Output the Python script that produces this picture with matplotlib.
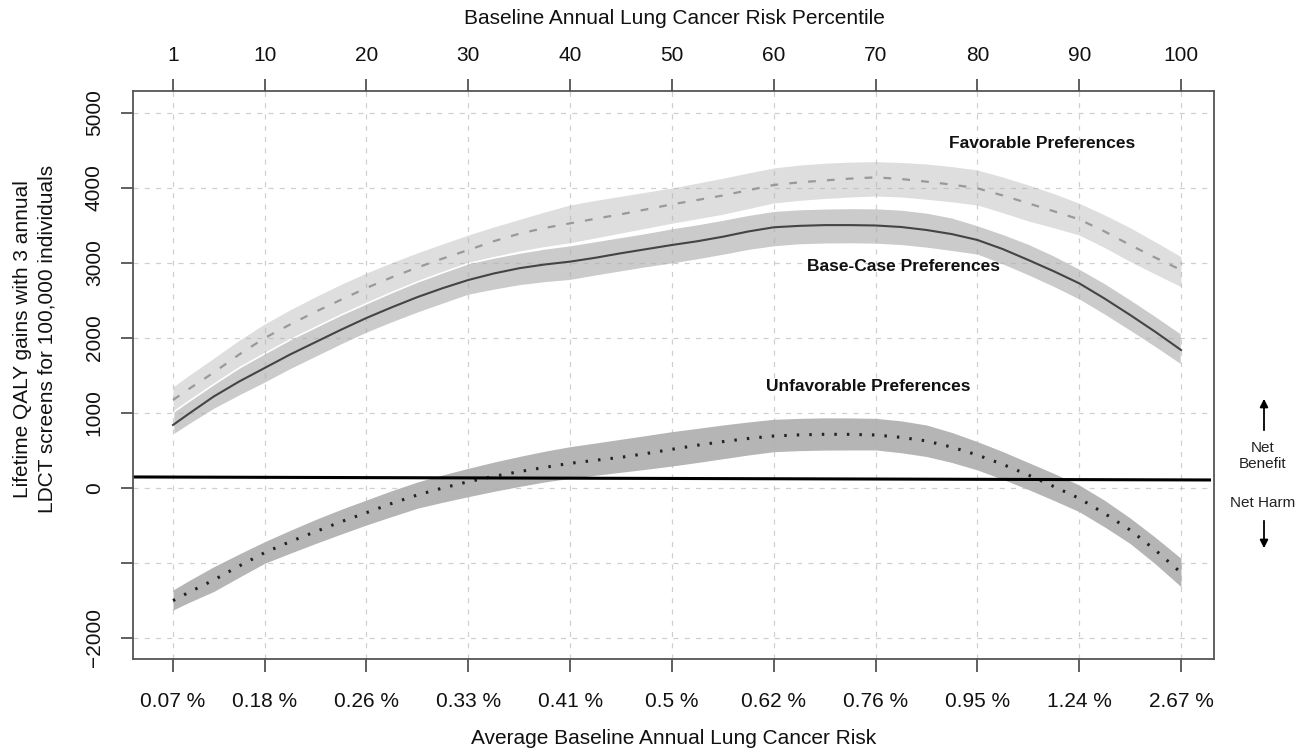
import matplotlib
matplotlib.use("Agg")
import matplotlib.pyplot as plt
from matplotlib.patches import FancyArrowPatch

plt.rcParams['font.family'] = ['Liberation Sans', 'DejaVu Sans']

# ---- data ----
percentile = [1, 2.5, 5, 7.5, 10, 12.5, 15, 17.5, 20, 22.5, 25, 27.5, 30, 32.5, 35, 37.5,
              40, 42.5, 45, 47.5, 50, 52.5, 55, 57.5, 60, 62.5, 65, 67.5, 70, 72.5, 75,
              77.5, 80, 82.5, 85, 87.5, 90, 92.5, 95, 97.5, 100]

base_mid = [840, 985, 1220, 1420, 1600, 1780, 1945, 2110, 2267, 2410, 2545, 2665, 2773, 2860,
            2930, 2980, 3018, 3070, 3130, 3185, 3240, 3290, 3350, 3420, 3476, 3495, 3505, 3505,
            3500, 3480, 3440, 3385, 3307, 3185, 3040, 2890, 2729, 2525, 2307, 2080, 1840]
base_upper = [1018, 1160, 1390, 1610, 1800, 1985, 2150, 2315, 2467, 2615, 2755, 2880, 3000, 3075,
              3140, 3195, 3240, 3295, 3350, 3405, 3467, 3520, 3580, 3645, 3698, 3720, 3730, 3735,
              3733, 3715, 3675, 3610, 3507, 3390, 3260, 3105, 2929, 2735, 2520, 2295, 2062]
base_lower = [707, 840, 1050, 1230, 1400, 1580, 1745, 1910, 2067, 2205, 2335, 2455, 2573, 2640,
              2700, 2740, 2770, 2830, 2885, 2940, 2990, 3045, 3105, 3170, 3218, 3245, 3255, 3258,
              3253, 3235, 3200, 3155, 3107, 2975, 2830, 2675, 2507, 2305, 2090, 1870, 1640]

fav_mid = [1173, 1315, 1540, 1780, 2000, 2180, 2350, 2510, 2667, 2810, 2940, 3060, 3173, 3290,
           3390, 3467, 3529, 3590, 3650, 3715, 3782, 3840, 3900, 3970, 4040, 4075, 4100, 4125,
           4142, 4120, 4084, 4045, 3996, 3900, 3796, 3690, 3582, 3420, 3240, 3070, 2907]
fav_upper = [1347, 1495, 1730, 1970, 2187, 2375, 2550, 2715, 2867, 3005, 3135, 3255, 3373, 3480,
             3580, 3680, 3773, 3835, 3890, 3945, 4000, 4065, 4130, 4200, 4267, 4305, 4330, 4345,
             4351, 4340, 4320, 4285, 4240, 4145, 4040, 3925, 3796, 3640, 3470, 3280, 3084]
fav_lower = [1013, 1155, 1380, 1600, 1800, 1985, 2150, 2315, 2467, 2615, 2755, 2880, 3000, 3085,
             3160, 3220, 3270, 3335, 3400, 3465, 3530, 3590, 3650, 3725, 3800, 3835, 3860, 3880,
             3893, 3880, 3850, 3815, 3773, 3670, 3560, 3470, 3373, 3205, 3020, 2850, 2684]

unfav_mid = [-1502, -1395, -1227, -1040, -862, -715, -582, -450, -329, -205, -93, 0, 84, 155,
             218, 275, 329, 370, 409, 460, 516, 570, 618, 660, 693, 708, 716, 715, 707, 675,
             627, 545, 440, 315, 173, 20, -138, -340, -560, -830, -1129]
unfav_upper = [-1360, -1240, -1050, -880, -716, -565, -420, -285, -160, -35, 80, 175, 262, 345,
               420, 490, 551, 600, 650, 700, 751, 795, 840, 880, 916, 928, 935, 934, 929, 895,
               840, 740, 618, 485, 340, 195, 40, -165, -400, -660, -938]
unfav_lower = [-1627, -1530, -1380, -1190, -1004, -870, -740, -615, -493, -380, -270, -190, -116,
               -45, 20, 80, 129, 170, 210, 250, 293, 340, 390, 440, 484, 498, 505, 507, 507, 470,
               420, 340, 240, 115, -20, -165, -316, -520, -740, -1015, -1316]

# reference (zero-effect) line as drawn
ref_x = [-2.7, 102.8]
ref_y = [147, 107]

pct_ticks = [1, 10, 20, 30, 40, 50, 60, 70, 80, 90, 100]
pct_labels = ['1', '10', '20', '30', '40', '50', '60', '70', '80', '90', '100']
risk_labels = ['0.07 %', '0.18 %', '0.26 %', '0.33 %', '0.41 %', '0.5 %',
               '0.62 %', '0.76 %', '0.95 %', '1.24 %', '2.67 %']
y_ticks = [5000, 4000, 3000, 2000, 1000, 0, -1000, -2000]
y_labels = ['5000', '4000', '3000', '2000', '1000', '0', '', '\u22122000']

W, H = 1314, 756
fig = plt.figure(figsize=(W / 100, H / 100), dpi=100)
L, R, T, B = 133, 1214, 91, 659
ax = fig.add_axes([L / W, 1 - B / H, (R - L) / W, (B - T) / H])
ax.set_xlim(-2.93, 103.24)
ax.set_ylim(-2280, 5293)

# bands
ax.fill_between(percentile, fav_lower, fav_upper, color='#dedede', lw=0, zorder=1)
ax.fill_between(percentile, base_lower, base_upper, facecolor='#cbcbcb', edgecolor='white',
                lw=1.2, zorder=1.1)
ax.fill_between(percentile, unfav_lower, unfav_upper, color='#b5b5b5', lw=0, zorder=1.2)

# grid
for xt in pct_ticks:
    ax.axvline(xt, color='#b0b0b0', alpha=0.6, lw=0.9, ls=(0, (4, 5)), zorder=1.5)
for yt in y_ticks:
    ax.axhline(yt, color='#b0b0b0', alpha=0.6, lw=0.9, ls=(0, (4, 5)), zorder=1.5)

# lines
ax.plot(percentile, fav_mid, color='#999999', lw=1.6, ls=(0, (3.5, 5)), zorder=3)
ax.plot(percentile, base_mid, color='#444444', lw=1.5, zorder=3)
ax.plot(percentile, unfav_mid, color='#222222', lw=2.2, ls=(0, (0.8, 3.3)), zorder=3)
ax.plot(ref_x, ref_y, color='black', lw=2.2, zorder=4)

# labels inside
ax.text(86.4, 4587, 'Favorable Preferences', fontsize=12.5, fontweight='bold',
        ha='center', va='center', color='#111111', zorder=5)
ax.text(72.7, 2947, 'Base-Case Preferences', fontsize=12.5, fontweight='bold',
        ha='center', va='center', color='#111111', zorder=5)
ax.text(69.3, 1347, 'Unfavorable Preferences', fontsize=12.5, fontweight='bold',
        ha='center', va='center', color='#111111', zorder=5)

# axes styling
for sp in ax.spines.values():
    sp.set_color('#555555')
    sp.set_linewidth(1.3)

ax.set_xticks(pct_ticks)
ax.set_xticklabels(risk_labels, fontsize=15)
ax.set_yticks(y_ticks)
ax.set_yticklabels(y_labels, fontsize=15, rotation=90, va='center')
ax.tick_params(axis='both', direction='out', length=9, width=1.2, color='#444444',
               labelcolor='#111111')
ax.tick_params(axis='x', pad=15)
ax.tick_params(axis='y', pad=12)

ax2 = ax.twiny()
ax2.set_xlim(ax.get_xlim())
ax2.set_xticks(pct_ticks)
ax2.set_xticklabels(pct_labels, fontsize=15)
ax2.tick_params(axis='x', direction='out', length=9, width=1.2, color='#444444',
                labelcolor='#111111', pad=10)
for sp in ax2.spines.values():
    sp.set_visible(False)

# axis titles
fig.text(674 / W, 1 - 738 / H, 'Average Baseline Annual Lung Cancer Risk', fontsize=15,
         ha='center', va='center', color='#111111')
fig.text(674 / W, 1 - 18 / H, 'Baseline Annual Lung Cancer Risk Percentile', fontsize=15,
         ha='center', va='center', color='#111111')
fig.text(35 / W, 1 - 339 / H, 'Lifetime QALY gains with 3 annual\nLDCT screens for 100,000 individuals',
         fontsize=15, rotation=90, ha='center', va='center', multialignment='center',
         linespacing=1.35, color='#111111')

# right-side annotations
fig.text(1263 / W, 1 - 456 / H, 'Net\nBenefit', fontsize=11, ha='center', va='center',
         multialignment='center', color='#222222')
fig.text(1263 / W, 1 - 503 / H, 'Net Harm', fontsize=11, ha='center', va='center', color='#222222')
fig.add_artist(FancyArrowPatch((1264 / W, 1 - 433 / H), (1264 / W, 1 - 396 / H),
               transform=fig.transFigure, arrowstyle='-|>', mutation_scale=12, lw=1.3, color='black'))
fig.add_artist(FancyArrowPatch((1264 / W, 1 - 518 / H), (1264 / W, 1 - 551 / H),
               transform=fig.transFigure, arrowstyle='-|>', mutation_scale=12, lw=1.3, color='black'))

fig.savefig('out.png', dpi=100, facecolor='white')
